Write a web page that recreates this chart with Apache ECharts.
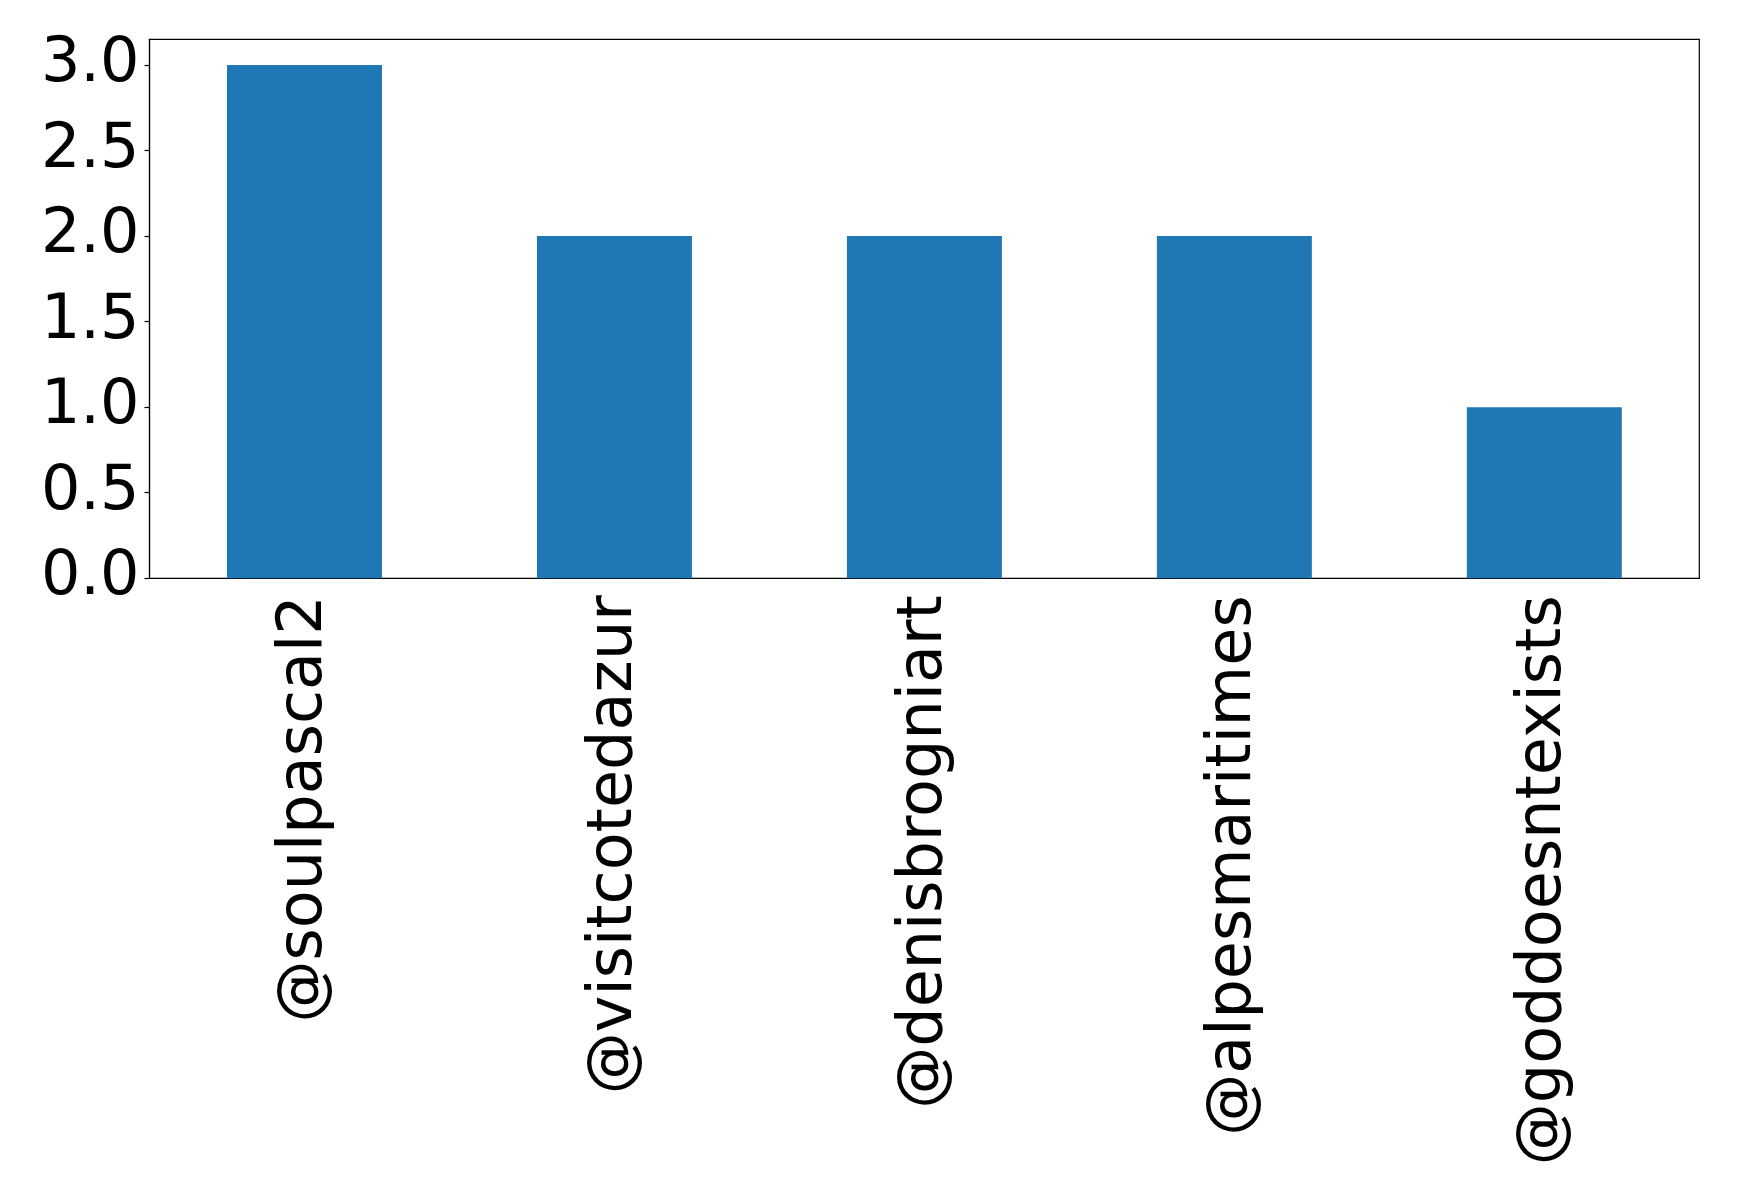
<!DOCTYPE html>
<html>
<head>
<meta charset="utf-8">
<script src="https://cdn.jsdelivr.net/npm/echarts@6/dist/echarts.min.js"></script>
<style>html,body{margin:0;padding:0;background:#fff;}#c{width:1739px;height:1202px;}</style>
</head>
<body>
<div id="c"></div>
<script>
const categories = ['@soulpascal2', '@visitcotedazur', '@denisbrogniart', '@alpesmaritimes', '@goddoesntexists'];
const values = [3, 2, 2, 2, 1];
const yTicks = [0, 0.5, 1.0, 1.5, 2.0, 2.5, 3.0];

const chart = echarts.init(document.getElementById('c'), null, {renderer: 'canvas'});
chart.setOption({
  animation: false,
  backgroundColor: '#fff',
  grid: {left: 149.5, top: 39.3, right: 39.7, bottom: 623.7, show: true, borderColor: '#000', borderWidth: 1.2, containLabel: false},
  xAxis: {
    type: 'category',
    data: categories,
    boundaryGap: true,
    axisLine: {lineStyle: {color: '#000', width: 1.2}},
    axisTick: {alignWithLabel: true, length: 5, lineStyle: {color: '#000', width: 1.2}},
    axisLabel: {rotate: 90, interval: 0, color: '#000', fontFamily: 'DejaVu Sans', fontSize: 62, margin: 17}
  },
  yAxis: {
    type: 'value',
    min: 0,
    max: 3.15,
    interval: 0.5,
    splitLine: {show: false},
    axisLine: {show: true, lineStyle: {color: '#000', width: 1.2}},
    axisTick: {show: true, length: 5, lineStyle: {color: '#000', width: 1.2}},
    axisLabel: {
      color: '#000', fontFamily: 'DejaVu Sans', fontSize: 62, margin: 10,
      showMaxLabel: false,
      formatter: v => (yTicks.some(t => Math.abs(t - v) < 1e-9) ? v.toFixed(1) : '')
    }
  },
  series: [{
    type: 'bar',
    data: values,
    barWidth: '50%',
    itemStyle: {color: '#1f77b4'}
  }]
});
</script>
</body>
</html>
